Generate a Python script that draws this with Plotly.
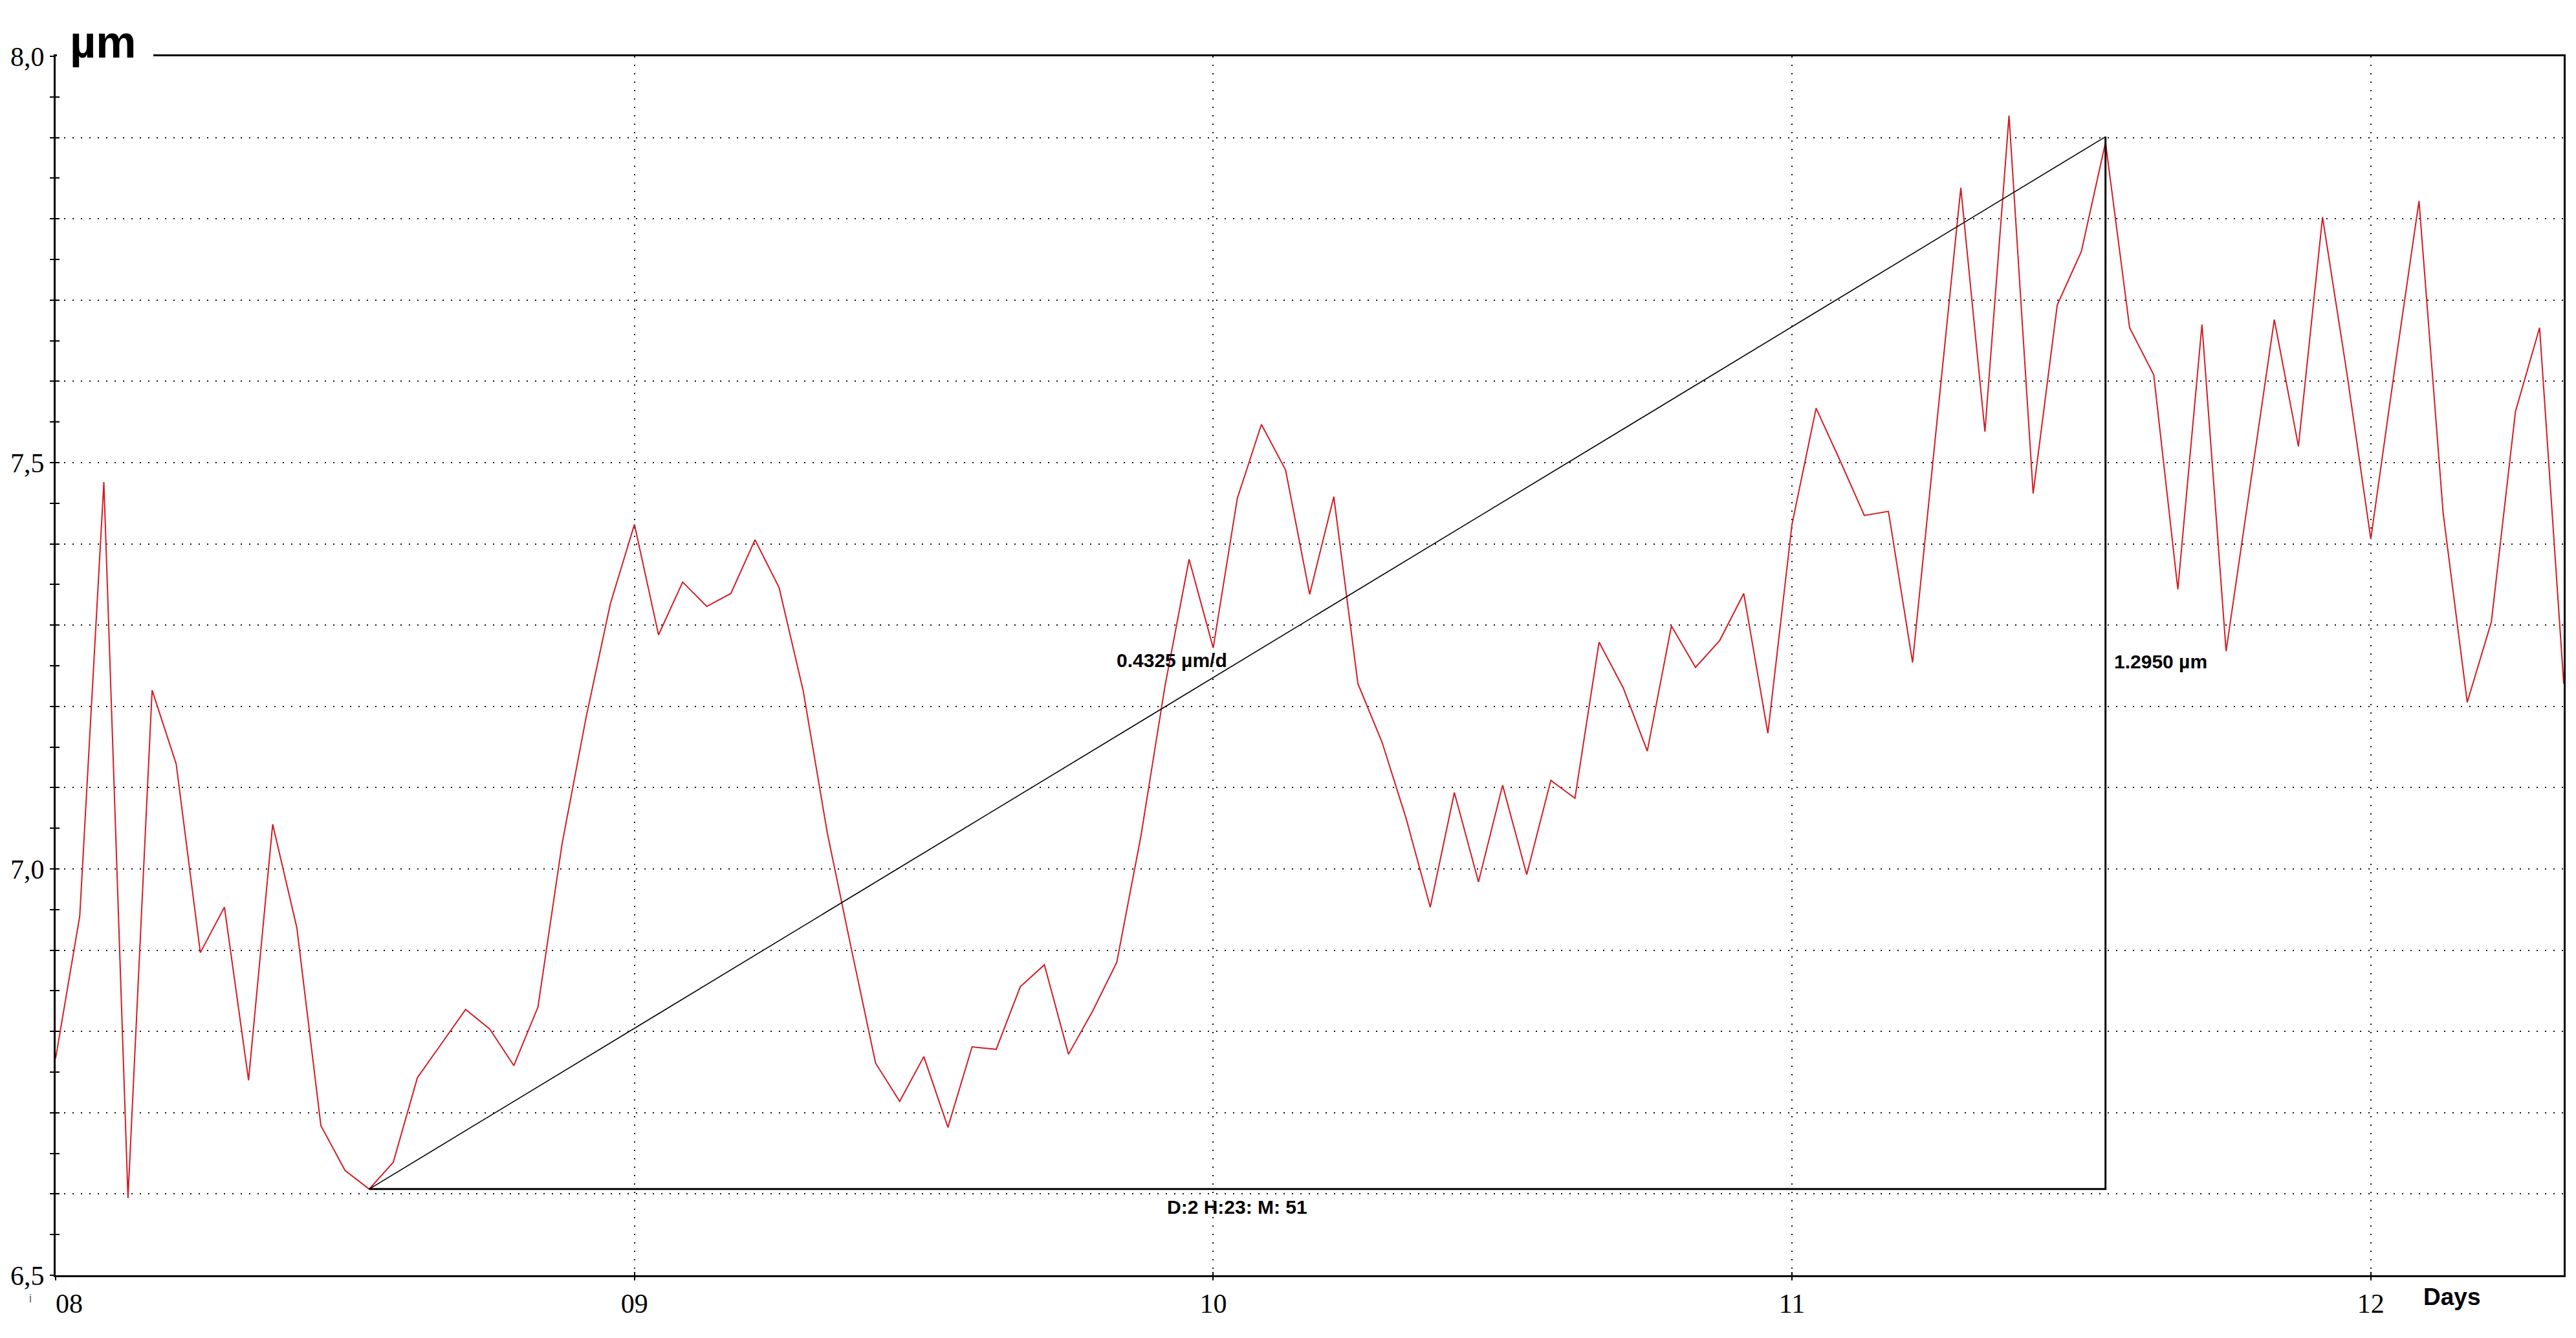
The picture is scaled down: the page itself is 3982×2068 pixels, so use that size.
import pandas as pd
import plotly.graph_objects as go

# ---------------- data ----------------
start_time = "2024-01-08 00:00"
values = [
    6.767, 6.942, 7.476, 6.595, 7.220, 7.129, 6.897, 6.953, 6.740, 7.055,
    6.928, 6.684, 6.629, 6.606, 6.639, 6.743, 6.785, 6.827, 6.803, 6.758,
    6.830, 7.031, 7.187, 7.326, 7.424, 7.288, 7.353, 7.323, 7.339, 7.405,
    7.346, 7.219, 7.044, 6.901, 6.761, 6.714, 6.769, 6.682, 6.781, 6.778,
    6.855, 6.882, 6.772, 6.825, 6.885, 7.040, 7.225, 7.381, 7.272, 7.456,
    7.547, 7.491, 7.338, 7.458, 7.228, 7.156, 7.062, 6.953, 7.094, 6.984,
    7.103, 6.993, 7.109, 7.087, 7.279, 7.223, 7.145, 7.299, 7.248, 7.281,
    7.339, 7.167, 7.424, 7.567, 7.502, 7.435, 7.440, 7.254, 7.547, 7.838,
    7.538, 7.927, 7.462, 7.694, 7.760, 7.894, 7.666, 7.608, 7.344, 7.670,
    7.268, 7.474, 7.676, 7.520, 7.802, 7.612, 7.406, 7.617, 7.822, 7.438,
    7.205, 7.304, 7.563, 7.666, 7.228,
]
times = pd.date_range(start_time, periods=len(values), freq="h")

day_ticks = ["2024-01-08", "2024-01-09", "2024-01-10", "2024-01-11", "2024-01-12"]
day_labels = ["&nbsp;&nbsp;&nbsp;&nbsp;08", "09", "10", "11", "12"]

y_grid_vals = [6.5, 6.6, 6.7, 6.8, 6.9, 7.0, 7.1, 7.2, 7.3, 7.4, 7.5, 7.6, 7.7, 7.8, 7.9, 8.0]
y_grid_text = ["6,5", "", "", "", "", "7,0", "", "", "", "", "7,5", "", "", "", "", "8,0"]

trend_start_idx = 13
trend_end_idx = 85
rise_um = 1.2950
rate_text = "0.4325 µm/d"
rise_text = "1.2950 µm"
duration_text = "D:2 H:23: M: 51"

# ---------------- figure ----------------
t0 = times[trend_start_idx]
t1 = times[trend_end_idx]
y_low = values[trend_start_idx]
y_high = y_low + rise_um
t_mid = t0 + (t1 - t0) / 2
y_mid = (y_low + y_high) / 2

fig = go.Figure()
fig.add_trace(go.Scatter(x=times, y=values, mode="lines",
                         line=dict(color="#d41c24", width=2), showlegend=False,
                         hoverinfo="skip"))
fig.add_trace(go.Scatter(x=[t0, t1], y=[y_low, y_high], mode="lines",
                         line=dict(color="black", width=1.6), showlegend=False,
                         xaxis="x2", yaxis="y2", hoverinfo="skip"))
fig.add_trace(go.Scatter(x=[t0, t1, t1], y=[y_low, y_low, y_high], mode="lines",
                         line=dict(color="black", width=3), showlegend=False,
                         xaxis="x2", yaxis="y2", hoverinfo="skip"))

xr = [times[0], times[-1]]
yr = [6.5, 8.0]
grid_dash = "2px,11px"

fig.update_layout(
    width=3982, height=2068,
    margin=dict(l=86, r=19, t=87, b=97, pad=0),
    paper_bgcolor="white", plot_bgcolor="white",
    showlegend=False,
    xaxis=dict(type="date", range=xr, tickvals=day_ticks, ticktext=day_labels,
               ticks="outside", ticklen=5, tickwidth=2, tickcolor="black",
               showline=True, linewidth=3, linecolor="black", mirror=True,
               showgrid=True, gridcolor="#111111", gridwidth=2, griddash=grid_dash,
               zeroline=False,
               tickfont=dict(family="Liberation Serif", size=42, color="black")),
    yaxis=dict(range=yr, tickvals=y_grid_vals, ticktext=y_grid_text,
               ticks="outside", ticklen=6, tickwidth=2, tickcolor="black",
               showline=True, linewidth=3, linecolor="black", mirror=True,
               showgrid=True, gridcolor="#111111", gridwidth=2, griddash=grid_dash,
               zeroline=False,
               minor=dict(dtick=0.05, tick0=6.5, ticks="outside", ticklen=6,
                          tickwidth=2, tickcolor="black", showgrid=False),
               tickfont=dict(family="Liberation Serif", size=42, color="black")),
    xaxis2=dict(type="date", range=xr, overlaying="x", anchor="y2", side="bottom",
                tickvals=day_ticks, ticks="inside", ticklen=5, tickwidth=2,
                tickcolor="black", showticklabels=False, showgrid=False,
                showline=False, zeroline=False),
    yaxis2=dict(range=yr, overlaying="y", anchor="x2", side="left",
                tickvals=y_grid_vals, ticks="inside", ticklen=6, tickwidth=2,
                tickcolor="black", showticklabels=False, showgrid=False,
                showline=False, zeroline=False,
                minor=dict(dtick=0.05, tick0=6.5, ticks="inside", ticklen=6,
                           tickwidth=2, tickcolor="black", showgrid=False)),
)

# white box behind the unit label (interrupts the top frame line)
fig.add_shape(type="rect", xref="paper", yref="paper", layer="above",
              x0=2 / 3877, x1=151 / 3877, y0=1 - 24 / 1884, y1=1 + 50 / 1884,
              fillcolor="white", line=dict(width=0))

label_font = dict(family="Liberation Sans", size=30, color="black")
fig.add_annotation(x=t_mid, y=y_mid, xref="x", yref="y", text="<b>" + rate_text + "</b>",
                   showarrow=False, xanchor="right", yanchor="middle",
                   xshift=-14, yshift=4, font=label_font)
fig.add_annotation(x=t1, y=y_mid, xref="x", yref="y", text="<b>" + rise_text + "</b>",
                   showarrow=False, xanchor="left", yanchor="middle",
                   xshift=11, yshift=2, font=label_font)
fig.add_annotation(x=t_mid, y=y_low, xref="x", yref="y", text="<b>" + duration_text + "</b>",
                   showarrow=False, xanchor="center", yanchor="middle",
                   yshift=-28, font=label_font)
fig.add_annotation(x=20 / 3877, y=1 + 22 / 1884, xref="paper", yref="paper",
                   text="<b>µm</b>", showarrow=False, xanchor="left", yanchor="middle",
                   font=dict(family="Liberation Sans", size=70, color="black"))
fig.add_annotation(x=(3790 - 86) / 3877, y=-33 / 1884, xref="paper", yref="paper",
                   text="<b>Days</b>", showarrow=False, xanchor="center", yanchor="middle",
                   font=dict(family="Liberation Sans", size=37, color="black"))
fig.add_annotation(x=(47 - 86) / 3877, y=-36 / 1884, xref="paper", yref="paper",
                   text="i", showarrow=False, xanchor="center", yanchor="middle",
                   font=dict(family="Liberation Sans", size=18, color="#666666"))

fig.write_html("out.html", config={"displayModeBar": False},
               post_script="document.body.style.margin='0';")
